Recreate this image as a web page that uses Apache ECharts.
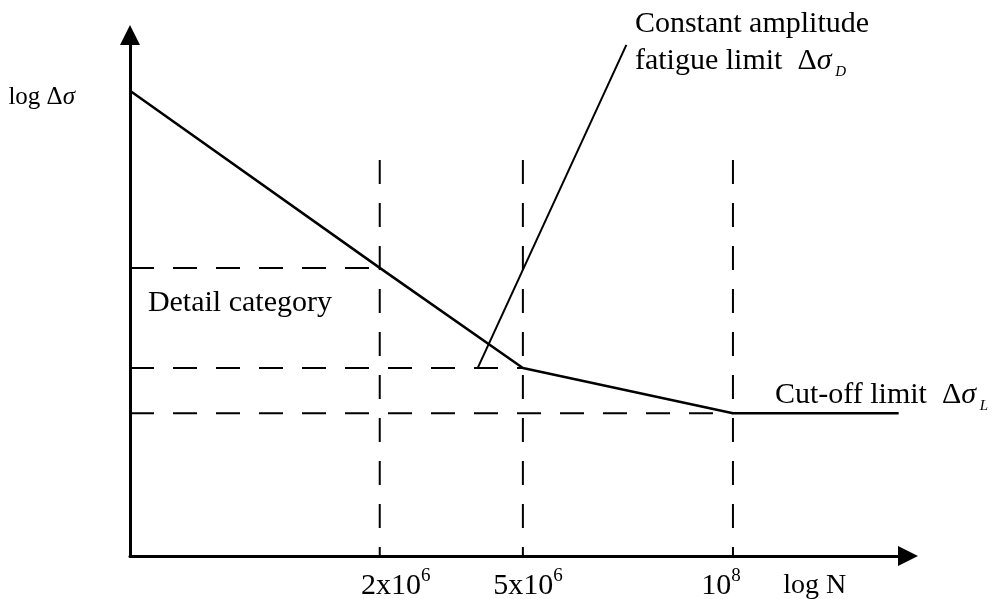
<!DOCTYPE html>
<html><head><meta charset="utf-8">
<script src="https://cdn.jsdelivr.net/npm/echarts@6/dist/echarts.min.js"></script>
<style>html,body{margin:0;padding:0;background:#fff}#c{width:994px;height:599px}</style>
</head><body><div id="c"></div>
<script>
// Schematic S-N curve: log N (x) vs log Δσ (y), in schematic units 0..100
const curveLogN = [0, 32.1, 50.5, 77.5, 98.8];
const curveLogS = [89.3, 55.3, 36.1, 27.4, 27.4];
const refPointIdx = [1, 2, 3];          // curve points that get dashed reference lines
const refLineTop = 76.0;                // top of the dashed verticals
const tickBase = ['2x10', '5x10', '10'];
const tickExp = ['6', '6', '8'];
const xNameText = 'log N';
const xNamePos = 88.0;
const yNamePos = 88.1;
const leaderFrom = [44.7, 36.1];
const leaderTo = [63.8, 98.1];
const notes = [
  {key: 'detail', x: 2.3, y: 48.6},
  {key: 'cafl', x: 64.9, y: 98.5},
  {key: 'cutoff', x: 82.9, y: 30.9}
];

// ---- styling / layout ----
const FONT = '"Liberation Serif", "Times New Roman", serif';
const tickNudge = [32, 10, -24];
const noteText = {
  detail: '{n|Detail category}',
  cafl: '{n|Constant amplitude}\n{n|fatigue limit  Δ}{gi|σ}{s| D}',
  cutoff: '{n|Cut-off limit  Δ}{gi|σ}{s| L}'
};
const txt = {fontFamily: FONT, fontSize: 30, color: '#000', lineHeight: 37};
const noteRich = {
  n: txt,
  gi: Object.assign({}, txt, {fontStyle: 'italic'}),
  s: {fontFamily: FONT, fontSize: 15, fontStyle: 'italic', color: '#000', lineHeight: 8, verticalAlign: 'bottom'}
};

const refX = refPointIdx.map(i => curveLogN[i]);
const xRich = {
  nm: {fontFamily: FONT, fontSize: 28, color: '#000', lineHeight: 30}
};
tickNudge.forEach((d, i) => {
  xRich['b' + i] = {fontFamily: FONT, fontSize: 30, color: '#000', lineHeight: 30, padding: [0, 0, 0, Math.max(d, 0)]};
  xRich['p' + i] = {fontFamily: FONT, fontSize: 19, color: '#000', lineHeight: 30, verticalAlign: 'top', padding: [-4, Math.max(-d, 0), 0, 0]};
});

const series = [];
series.push({
  type: 'line', data: curveLogN.map((x, i) => [x, curveLogS[i]]),
  symbol: 'none', lineStyle: {color: '#000', width: 2.5}, z: 5, silent: true
});
refPointIdx.forEach(i => {
  series.push({
    type: 'line', data: [[0, curveLogS[i]], [curveLogN[i], curveLogS[i]]],
    symbol: 'none', lineStyle: {color: '#000', width: 2, type: [24, 19]}, silent: true
  });
  series.push({
    type: 'line', data: [[curveLogN[i], refLineTop], [curveLogN[i], 0]],
    symbol: 'none', lineStyle: {color: '#000', width: 2, type: [24, 19]}, silent: true
  });
});
series.push({
  type: 'line', data: [leaderFrom, leaderTo],
  symbol: 'none', lineStyle: {color: '#000', width: 2}, silent: true
});
series.push({
  type: 'scatter', symbolSize: 0, itemStyle: {color: '#000', opacity: 1}, clip: false, silent: true, z: 10,
  data: notes.map(n => ({
    value: [n.x, n.y],
    label: {show: true, position: 'right', distance: 0, color: '#000', opacity: 1, formatter: noteText[n.key], rich: noteRich}
  }))
});

const chart = echarts.init(document.getElementById('c'), null, {renderer: 'canvas'});
chart.setOption({
  animation: false,
  backgroundColor: '#fff',
  grid: {left: 130, right: 86, top: 35, bottom: 43, containLabel: false, outerBoundsMode: 'none'},
  xAxis: {
    type: 'value', min: 0, max: 100,
    axisLine: {show: true, onZero: false, lineStyle: {color: '#000', width: 3}, symbol: ['none', 'triangle'], symbolSize: [20, 20]},
    axisTick: {show: false}, splitLine: {show: false},
    axisLabel: {
      customValues: refX.concat([xNamePos]), margin: 15, hideOverlap: false,
      showMinLabel: true, showMaxLabel: true, color: '#000',
      formatter: v => {
        const i = refX.indexOf(v);
        if (i < 0) return '{nm|' + xNameText + '}';
        return '{b' + i + '|' + tickBase[i] + '}{p' + i + '|' + tickExp[i] + '}';
      },
      rich: xRich
    }
  },
  yAxis: {
    type: 'value', min: 0, max: 100,
    axisLine: {show: true, onZero: false, lineStyle: {color: '#000', width: 3}, symbol: ['none', 'triangle'], symbolSize: [20, 20]},
    axisTick: {show: false}, splitLine: {show: false},
    axisLabel: {
      customValues: [yNamePos], margin: 55, color: '#000',
      formatter: () => '{a|log Δ}{ai|σ}',
      rich: {
        a: {fontFamily: FONT, fontSize: 25, color: '#000'},
        ai: {fontFamily: FONT, fontSize: 25, color: '#000', fontStyle: 'italic'}
      }
    }
  },
  series: series
});
</script>
</body></html>
